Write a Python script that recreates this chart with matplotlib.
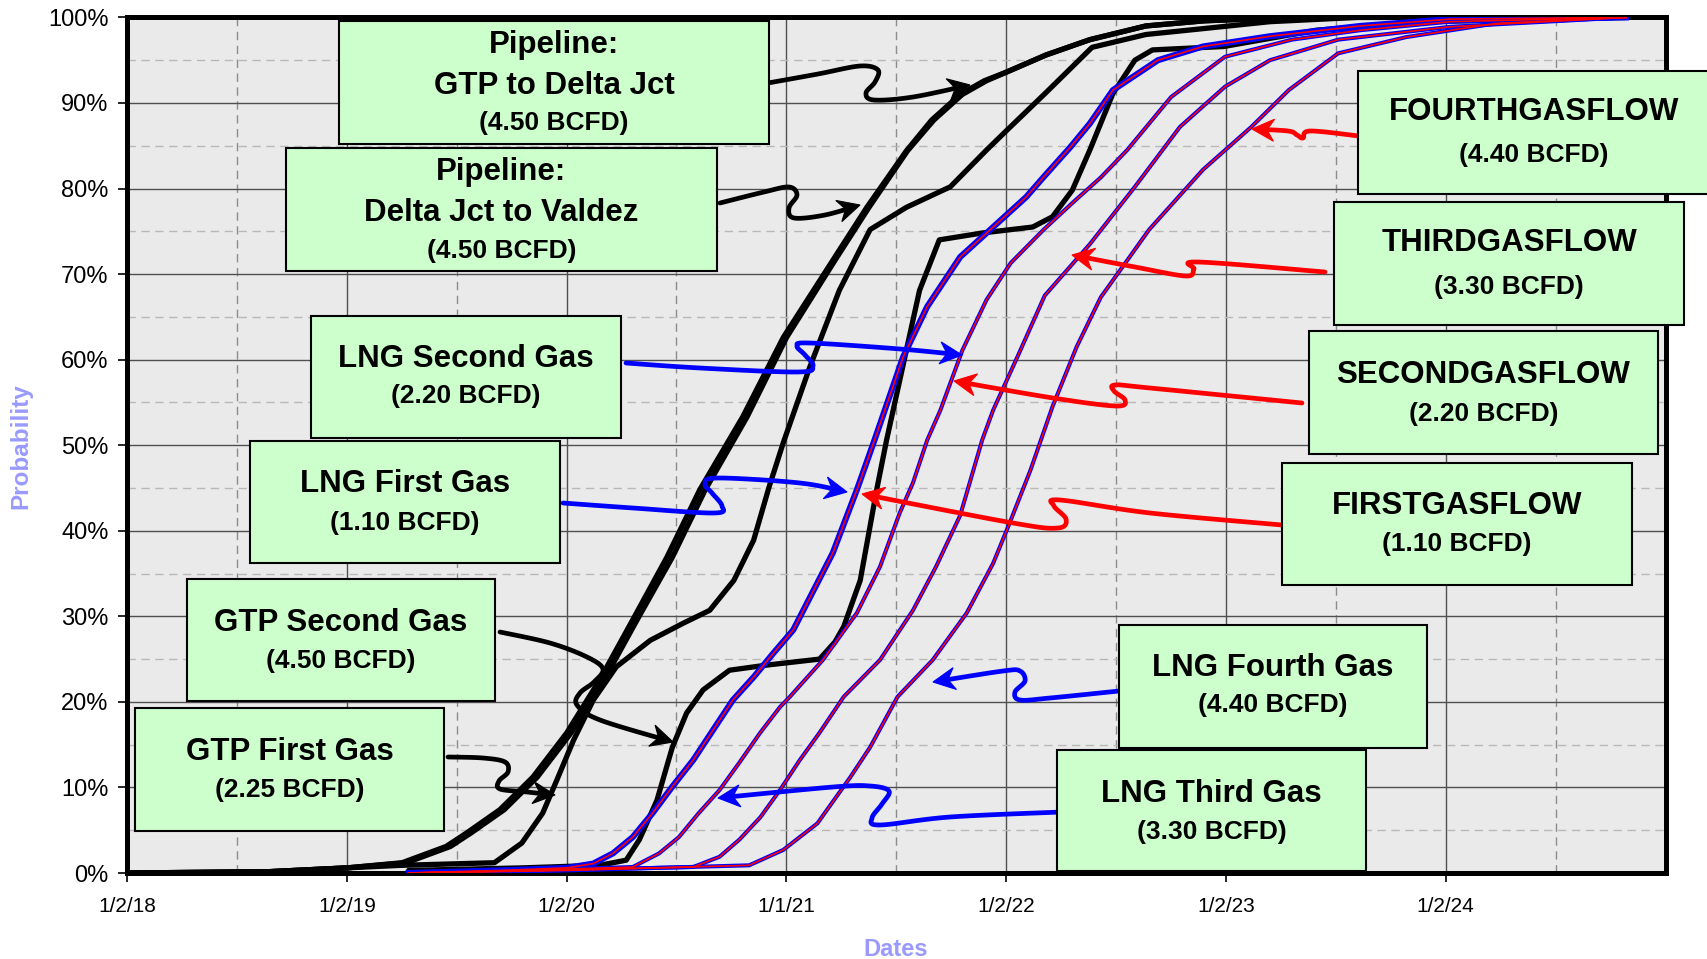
"""
Cumulative probability of first-gas / flow dates for the gas pipeline and LNG
milestones (Monte Carlo schedule curves), redrawn from the project chart.
"""

import datetime as dt

import numpy as np
import matplotlib

matplotlib.use("Agg")
import matplotlib.pyplot as plt
from matplotlib.lines import Line2D
from matplotlib.patches import Rectangle, Polygon
from matplotlib.ticker import MultipleLocator
from matplotlib.transforms import Affine2D

plt.rcParams["font.family"] = ["Liberation Sans", "DejaVu Sans"]

W, H = 1707, 959
BASE = dt.datetime(2018, 1, 2)

# ---- curve data: decimal year, cumulative probability (%) ----
pipe_gtp_delta_x = [2018.0, 2018.64, 2019.0, 2019.25, 2019.45, 2019.545, 2019.695, 2019.845,
                    2020.0, 2020.15, 2020.30, 2020.455, 2020.605, 2020.80, 2020.985, 2021.21,
                    2021.365, 2021.545, 2021.66, 2021.79, 2021.9, 2022.0, 2022.18, 2022.38,
                    2022.635, 2022.9, 2023.3, 2024.82]
pipe_gtp_delta_y = [0.0, 0.15, 0.6, 1.2, 3.1, 4.7, 7.4, 11.2,
                    16.4, 22.6, 29.6, 36.9, 44.8, 53.3, 62.6, 71.6,
                    77.8, 84.4, 88.0, 91.0, 92.6, 93.6, 95.6, 97.4,
                    99.0, 99.6, 100.0, 100.0]

pipe_delta_valdez_x = [2018.0, 2018.64, 2019.0, 2019.27, 2019.47, 2019.565, 2019.715, 2019.865,
                       2020.02, 2020.17, 2020.32, 2020.48, 2020.63, 2020.82, 2021.0, 2021.22,
                       2021.375, 2021.55, 2021.67, 2021.8, 2021.91, 2022.0, 2022.18, 2022.38,
                       2022.635, 2022.9, 2023.3, 2024.82]
pipe_delta_valdez_y = [0.0, 0.15, 0.6, 1.2, 3.1, 4.7, 7.4, 11.2,
                       16.4, 22.6, 29.6, 36.9, 44.8, 53.3, 62.6, 71.6,
                       77.8, 84.4, 88.0, 91.0, 92.6, 93.6, 95.6, 97.4,
                       99.0, 99.6, 100.0, 100.0]

gtp_first_x = [2018.0, 2018.64, 2019.0, 2019.25, 2019.67, 2019.795, 2019.89, 2019.955,
               2020.03, 2020.12, 2020.225, 2020.38, 2020.53, 2020.65, 2020.76, 2020.85,
               2020.92, 2020.985, 2021.105, 2021.24, 2021.38, 2021.545, 2021.745, 2021.91,
               2021.99, 2022.18, 2022.39, 2022.635, 2022.9, 2023.2, 2023.6, 2024.82]
gtp_first_y = [0.0, 0.15, 0.6, 0.9, 1.2, 3.5, 7.0, 10.9,
               15.5, 20.2, 24.1, 27.2, 29.2, 30.7, 34.2, 38.9,
               45.1, 50.3, 59.1, 68.1, 75.2, 77.8, 80.2, 84.5,
               86.5, 91.2, 96.5, 98.0, 98.7, 99.5, 100.0, 100.0]

gtp_second_x = [2019.28, 2019.8, 2020.15, 2020.27, 2020.33, 2020.41, 2020.48, 2020.545,
                2020.62, 2020.74, 2020.91, 2021.15, 2021.22, 2021.26, 2021.335, 2021.41,
                2021.455, 2021.545, 2021.605, 2021.695, 2021.89, 2022.12, 2022.21, 2022.30,
                2022.38, 2022.485, 2022.585, 2022.665, 2022.99, 2023.41, 2023.9, 2024.82]
gtp_second_y = [0.3, 0.6, 0.9, 1.5, 3.9, 8.5, 14.7, 18.7,
                21.4, 23.7, 24.3, 25.0, 27.0, 28.8, 34.2, 44.8,
                50.6, 61.1, 68.1, 74.0, 74.8, 75.5, 76.7, 79.8,
                84.5, 91.1, 95.0, 96.2, 96.6, 98.5, 99.5, 100.0]

first_gas_x = [2019.28, 2019.7, 2020.0, 2020.12, 2020.21, 2020.30, 2020.39, 2020.48,
               2020.575, 2020.665, 2020.755, 2020.85, 2020.94, 2021.03, 2021.12, 2021.21,
               2021.32, 2021.40, 2021.53, 2021.64, 2021.79, 2021.94, 2022.09, 2022.175,
               2022.29, 2022.38, 2022.485, 2022.69, 2022.895, 2023.2, 2023.61, 2024.02, 2024.82]
first_gas_y = [0.0, 0.3, 0.6, 1.1, 2.3, 4.2, 7.0, 10.1,
               13.2, 16.7, 20.2, 22.9, 25.7, 28.4, 32.9, 37.4,
               44.8, 50.6, 60.3, 66.2, 72.0, 75.5, 79.0, 81.5,
               84.8, 87.6, 91.5, 95.0, 96.6, 97.8, 99.0, 99.8, 100.0]

second_gas_x = [2019.28, 2019.8, 2020.30, 2020.42, 2020.51, 2020.60, 2020.695, 2020.785,
                2020.88, 2020.97, 2021.015, 2021.165, 2021.32, 2021.425, 2021.515, 2021.575,
                2021.64, 2021.70, 2021.80, 2021.91, 2022.02, 2022.17, 2022.30, 2022.43,
                2022.55, 2022.75, 2022.995, 2023.30, 2023.61, 2024.02, 2024.82]
second_gas_y = [0.0, 0.3, 0.7, 2.3, 4.2, 7.0, 9.7, 12.9,
                16.4, 19.4, 20.6, 24.9, 30.4, 35.8, 42.1, 45.6,
                50.6, 54.1, 61.1, 67.0, 71.3, 75.2, 78.3, 81.3,
                84.5, 90.7, 95.4, 97.4, 98.5, 99.5, 100.0]

third_gas_x = [2019.28, 2019.9, 2020.575, 2020.695, 2020.785, 2020.88, 2020.97, 2021.06,
               2021.15, 2021.26, 2021.425, 2021.575, 2021.68, 2021.79, 2021.89, 2021.94,
               2022.05, 2022.175, 2022.38, 2022.585, 2022.79, 2022.995, 2023.2, 2023.51,
               2024.02, 2024.82]
third_gas_y = [0.0, 0.3, 0.7, 1.9, 3.9, 6.5, 9.7, 13.2,
               16.4, 20.6, 24.9, 30.7, 35.8, 41.8, 50.6, 54.1,
               60.3, 67.5, 73.5, 80.2, 87.2, 91.9, 95.0, 97.4,
               98.9, 100.0]

fourth_gas_x = [2019.28, 2020.0, 2020.83, 2020.985, 2021.14, 2021.29, 2021.38, 2021.505,
                2021.665, 2021.82, 2021.94, 2022.015, 2022.11, 2022.21, 2022.32, 2022.43,
                2022.55, 2022.65, 2022.895, 2023.115, 2023.285, 2023.51, 2023.82, 2024.23,
                2024.82]
fourth_gas_y = [0.0, 0.3, 0.9, 2.7, 5.8, 11.2, 14.7, 20.6,
                24.9, 30.4, 36.2, 40.9, 47.1, 54.5, 61.5, 67.3,
                71.6, 75.2, 82.2, 87.2, 91.5, 95.8, 97.7, 99.3,
                100.0]

tick_dates = [dt.datetime(2018, 1, 2), dt.datetime(2019, 1, 2), dt.datetime(2020, 1, 2),
              dt.datetime(2021, 1, 1), dt.datetime(2022, 1, 2), dt.datetime(2023, 1, 2),
              dt.datetime(2024, 1, 2)]
tick_labels = ["1/2/18", "1/2/19", "1/2/20", "1/1/21", "1/2/22", "1/2/23", "1/2/24"]
x_end = dt.datetime(2025, 1, 2)

# ---- annotation boxes (pixel layout): left, top, right, bottom, lines ----
boxes = [
    (339, 21, 769, 144, [("Pipeline:", 45), ("GTP to Delta Jct", 86), ("(4.50 BCFD)", 123)]),
    (286, 148, 717, 271, [("Pipeline:", 172), ("Delta Jct to Valdez", 213), ("(4.50 BCFD)", 251)]),
    (311, 316, 621, 438, [("LNG Second Gas", 359), ("(2.20 BCFD)", 396)]),
    (250, 441, 560, 563, [("LNG First Gas", 484), ("(1.10 BCFD)", 523)]),
    (187, 579, 495, 701, [("GTP Second Gas", 623), ("(4.50 BCFD)", 661)]),
    (135, 708, 444, 831, [("GTP First Gas", 752), ("(2.25 BCFD)", 790)]),
    (1358, 71, 1710, 194, [("FOURTHGASFLOW", 112), ("(4.40 BCFD)", 155)]),
    (1334, 202, 1684, 325, [("THIRDGASFLOW", 243), ("(3.30 BCFD)", 287)]),
    (1309, 331, 1658, 454, [("SECONDGASFLOW", 375), ("(2.20 BCFD)", 414)]),
    (1282, 463, 1632, 585, [("FIRSTGASFLOW", 506), ("(1.10 BCFD)", 544)]),
    (1119, 625, 1427, 748, [("LNG Fourth Gas", 668), ("(4.40 BCFD)", 705)]),
    (1057, 750, 1366, 871, [("LNG Third Gas", 794), ("(3.30 BCFD)", 832)]),
]

# ---- hand-drawn connector arrows (pixel layout) ----
arrows = [
    ("black", [(768, 83), (818, 74), (860, 66), (878, 70), (875, 82), (866, 93), (874, 100),
               (913, 97), (970, 85)]),
    ("black", [(720, 203), (764, 192), (789, 187), (797, 195), (789, 208), (794, 218),
               (825, 215), (860, 205)]),
    ("#0000FF", [(626, 363), (700, 368), (798, 372), (813, 366), (805, 355),
                 (797, 346), (810, 343), (900, 349), (962, 355)]),
    ("#0000FF", [(563, 503), (633, 508), (714, 513), (722, 506), (712, 493), (705, 484),
                 (718, 478), (800, 483), (847, 492)]),
    ("black", [(500, 632), (550, 643), (587, 657), (603, 669), (594, 682), (580, 693),
               (577, 705), (600, 720), (673, 742)]),
    ("black", [(448, 757), (483, 758), (505, 762), (508, 772), (499, 781), (500, 789),
               (527, 792), (555, 795)]),
    ("#0000FF", [(1119, 691), (1050, 698), (1020, 700), (1015, 692), (1025, 681),
                 (1020, 671), (1003, 671), (933, 682)]),
    ("#0000FF", [(1061, 812), (950, 817), (880, 825), (872, 818), (882, 804),
                 (889, 791), (870, 786), (833, 787), (718, 798)]),
    ("#FF0000", [(1359, 136), (1310, 131), (1303, 138), (1297, 135), (1288, 131),
                 (1252, 129)]),
    ("#FF0000", [(1325, 272), (1198, 262), (1194, 269), (1186, 276), (1135, 267),
                 (1072, 255)]),
    ("#FF0000", [(1302, 403), (1150, 388), (1115, 385), (1114, 391), (1125, 400),
                 (1116, 406), (1053, 398), (954, 381)]),
    ("#FF0000", [(1282, 525), (1150, 513), (1060, 500), (1054, 506), (1066, 519),
                 (1058, 528), (1013, 523), (862, 494)]),
]


def to_dates(years):
    """Decimal years -> datetimes."""
    return [BASE + dt.timedelta(days=(y - 2018.0) * 365.25) for y in years]


def smooth_path(pts, n=10):
    """Catmull-Rom through the hand-placed connector points."""
    p = np.asarray(pts, dtype=float)
    p = np.vstack([p[0], p, p[-1]])
    out = []
    for i in range(1, len(p) - 2):
        p0, p1, p2, p3 = p[i - 1], p[i], p[i + 1], p[i + 2]
        for t in np.linspace(0, 1, n, endpoint=False):
            t2, t3 = t * t, t * t * t
            out.append(0.5 * (2 * p1 + (-p0 + p2) * t + (2 * p0 - 5 * p1 + 4 * p2 - p3) * t2
                              + (-p0 + 3 * p1 - 3 * p2 + p3) * t3))
    out.append(p[-2])
    return np.array(out)


def draw_connector(fig, pts, color, tr, lw=3.4, head_len=22, head_half=11, notch=7):
    curve = smooth_path(pts)
    tip = curve[-1]
    back = np.asarray(pts[-2], dtype=float)
    u = (tip - back) / np.hypot(*(tip - back))
    nrm = np.array([-u[1], u[0]])
    base = tip - u * head_len
    # stop the shaft inside the notch
    keep = np.hypot(*(curve - tip).T) > head_len - notch
    shaft = np.vstack([curve[keep], tip - u * (head_len - notch)])
    fig.add_artist(Line2D(shaft[:, 0], shaft[:, 1], transform=tr, color=color, lw=lw,
                          solid_capstyle="round", solid_joinstyle="round", zorder=6))
    head = [tip, base + nrm * head_half, tip - u * (head_len - notch), base - nrm * head_half]
    fig.add_artist(Polygon(head, closed=True, transform=tr, facecolor=color,
                           edgecolor=color, lw=0.8, zorder=6))


fig = plt.figure(figsize=(W / 100, H / 100), dpi=100)
PX = Affine2D().scale(1, -1).translate(0, H)  # figure pixels, y down

ax = fig.add_axes([127.4 / W, (H - 873) / H, (1665.7 - 127.4) / W, (873 - 17.4) / H])
ax.set_facecolor("#EAEAEA")
ax.set_axisbelow(True)

# black curves (pipeline + GTP)
for xs, ys in [(pipe_gtp_delta_x, pipe_gtp_delta_y),
               (pipe_delta_valdez_x, pipe_delta_valdez_y),
               (gtp_first_x, gtp_first_y),
               (gtp_second_x, gtp_second_y)]:
    ax.plot(to_dates(xs), ys, color="black", lw=3.8, solid_joinstyle="round",
            solid_capstyle="round", zorder=3)

# LNG (blue) with gas-flow (red) drawn on top
for xs, ys, blue_w in [(first_gas_x, first_gas_y, 4.4),
                       (second_gas_x, second_gas_y, 2.9),
                       (third_gas_x, third_gas_y, 2.9),
                       (fourth_gas_x, fourth_gas_y, 2.9)]:
    d = to_dates(xs)
    ax.plot(d, ys, color="#0000FF", lw=blue_w, solid_joinstyle="round", zorder=4)
    ax.plot(d, ys, color="#FF0000", lw=1.2, solid_joinstyle="round", zorder=5)

ax.set_ylim(0, 100)
ax.set_yticks(range(0, 101, 10))
ax.set_yticklabels([f"{v}%" for v in range(0, 101, 10)])
ax.yaxis.set_minor_locator(MultipleLocator(5))

ax.set_xlim(BASE, x_end)
ax.set_xticks(tick_dates)
ax.set_xticklabels(tick_labels)
edges = tick_dates + [x_end]
ax.set_xticks([a + (b - a) / 2 for a, b in zip(edges[:-1], edges[1:])], minor=True)

ax.tick_params(axis="y", which="major", labelsize=17, length=6.5, width=1.2, pad=7)
ax.tick_params(axis="x", which="major", labelsize=15, length=6.5, width=1.2, pad=11)
ax.tick_params(which="minor", length=0)

ax.xaxis.grid(True, which="major", color="#505050", lw=1.0)
ax.yaxis.grid(True, which="major", color="#505050", lw=1.0)
ax.xaxis.grid(True, which="minor", color="#8c8c8c", lw=1.0, ls=(0, (6, 4)))
ax.yaxis.grid(True, which="minor", color="#b8b8b8", lw=1.0, ls=(0, (6, 4)))

for sp in ax.spines.values():
    sp.set_linewidth(3.6)
    sp.set_color("black")

# axis titles
fig.text(21, 446, "Probability", transform=PX, rotation=90, ha="center", va="center",
         fontsize=17.5, weight="bold", color="#9999FF")
fig.text(896, 949, "Dates", transform=PX, ha="center", va="center",
         fontsize=17, weight="bold", color="#9999FF")

# connector arrows
for color, pts in arrows:
    draw_connector(fig, pts, color, PX)

# label boxes
for left, top, right, bottom, lines in boxes:
    fig.add_artist(Rectangle((left, top), right - left, bottom - top, transform=PX,
                             facecolor="#CCFFCC", edgecolor="black", lw=1.5, zorder=7))
    cx = (left + right) / 2
    for txt, ly in lines:
        size = 19 if txt.startswith("(") else 22.5
        fig.text(cx, ly, txt, transform=PX, ha="center", va="center",
                 fontsize=size, weight="bold", color="black", zorder=8)

fig.savefig("out.png", dpi=100)
